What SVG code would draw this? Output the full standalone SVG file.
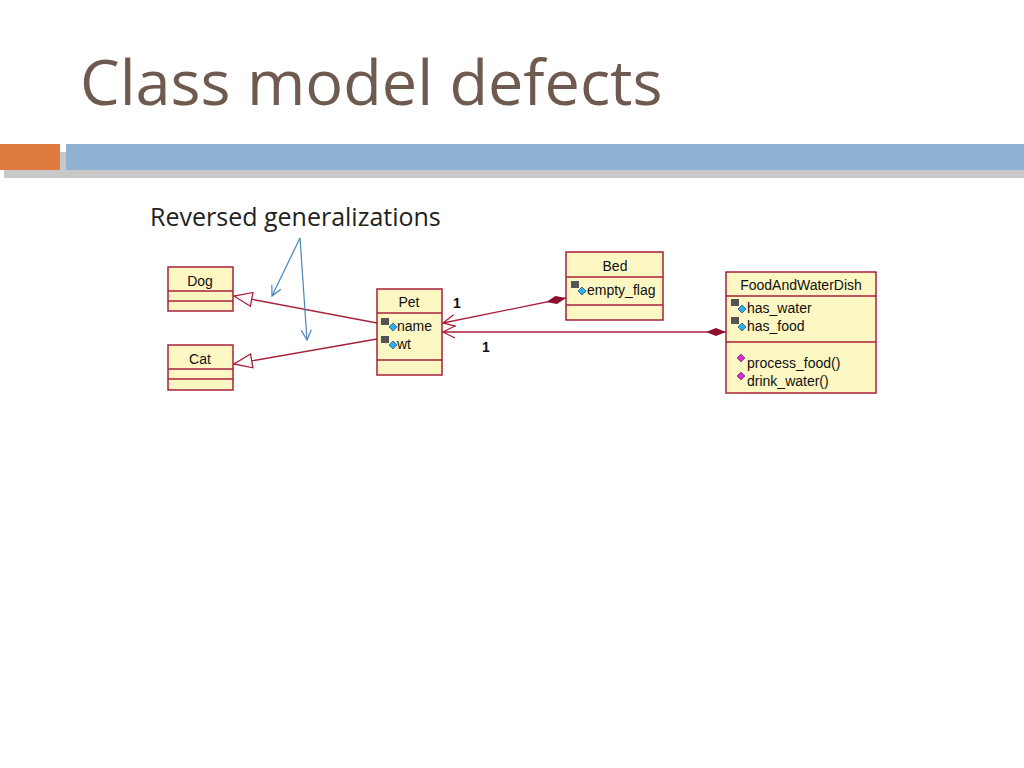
<svg xmlns="http://www.w3.org/2000/svg" width="1024" height="768" viewBox="0 0 1024 768">
<style>
.box{fill:#fdf7c3;stroke:#a8203c;stroke-width:1.5}
.ln{stroke:#a8203c;stroke-width:1.3;fill:none}
.t{font-family:"Liberation Sans",Arial,sans-serif;font-size:14px;fill:#111}
.blue{stroke:#4a86b8;stroke-width:1.2;fill:none}
</style>
<defs>
<marker id="tri" markerWidth="20" markerHeight="16" refX="19" refY="8" orient="auto" markerUnits="userSpaceOnUse"><path d="M19,8 L1,1 L1,15 Z" fill="#fff" stroke="#a8203c" stroke-width="1.3"/></marker>
<marker id="open" markerWidth="14" markerHeight="14" refX="13" refY="7" orient="auto" markerUnits="userSpaceOnUse"><path d="M1,1 L13,7 L1,13" fill="none" stroke="#a8203c" stroke-width="1.3"/></marker>
<marker id="dia" markerWidth="22" markerHeight="10" refX="1" refY="5" orient="auto" markerUnits="userSpaceOnUse"><path d="M1,5 L11,1 L21,5 L11,9 Z" fill="#8b1030"/></marker>
<marker id="ba" markerWidth="12" markerHeight="12" refX="11" refY="6" orient="auto" markerUnits="userSpaceOnUse"><path d="M1,1 L11,6 L1,11" fill="none" stroke="#4a86b8" stroke-width="1.2"/></marker>
</defs>
<rect width="1024" height="768" fill="#fff"/>
<text x="80" y="105" font-family="'Open Sans','Noto Sans',sans-serif" font-size="63" fill="#6e5a4e">Class model defects</text>
<rect x="4" y="152" width="1020" height="26" fill="#c8c8c8"/>
<rect x="0" y="144" width="60" height="26" fill="#e07b3f"/>
<rect x="66" y="144" width="958" height="26" fill="#8fb2d2"/>
<text x="150" y="226" font-family="'Open Sans','Noto Sans',sans-serif" font-size="25" fill="#222">Reversed generalizations</text>
<g id="connectors">
<line class="ln" x1="377" y1="323" x2="234" y2="296" marker-end="url(#tri)"/>
<line class="ln" x1="377" y1="339" x2="234" y2="364" marker-end="url(#tri)"/>
<line class="ln" x1="566" y1="298" x2="443" y2="323" marker-start="url(#dia)" marker-end="url(#open)"/>
<line class="ln" x1="726" y1="332" x2="443" y2="332" marker-start="url(#dia)" marker-end="url(#open)"/>
<line class="blue" x1="300" y1="238" x2="272" y2="296" marker-end="url(#ba)"/>
<line class="blue" x1="300" y1="238" x2="307" y2="340" marker-end="url(#ba)"/>
<text class="t" x="453" y="308" font-weight="bold" font-size="13">1</text>
<text class="t" x="482" y="352" font-weight="bold" font-size="13">1</text>
</g>
<g id="Dog"><rect class="box" x="168" y="267" width="65" height="44"/><line class="ln" x1="168" y1="291" x2="233" y2="291"/><line class="ln" x1="168" y1="301" x2="233" y2="301"/><text class="t" x="200" y="286" text-anchor="middle">Dog</text></g>
<g id="Cat"><rect class="box" x="168" y="345" width="65" height="45"/><line class="ln" x1="168" y1="369" x2="233" y2="369"/><line class="ln" x1="168" y1="379" x2="233" y2="379"/><text class="t" x="200" y="364" text-anchor="middle">Cat</text></g>
<g id="Pet"><rect class="box" x="377" y="289" width="65" height="86"/><line class="ln" x1="377" y1="313" x2="442" y2="313"/><line class="ln" x1="377" y1="360" x2="442" y2="360"/><text class="t" x="409" y="307" text-anchor="middle">Pet</text>
<g fill="#555"><rect x="381" y="318" width="8" height="7"/><rect x="381" y="336" width="8" height="7"/></g><g fill="#2ab0f0" stroke="#036" stroke-width="0.6"><path d="M389,327 l4,-4 l4,4 l-4,4z"/><path d="M389,345 l4,-4 l4,4 l-4,4z"/></g>
<text class="t" x="397" y="331">name</text><text class="t" x="397" y="349">wt</text></g>
<g id="Bed"><rect class="box" x="566" y="252" width="97" height="68"/><line class="ln" x1="566" y1="277" x2="663" y2="277"/><line class="ln" x1="566" y1="305" x2="663" y2="305"/><text class="t" x="615" y="271" text-anchor="middle">Bed</text>
<rect x="571" y="281" width="8" height="7" fill="#555"/><path d="M578,291 l4,-4 l4,4 l-4,4z" fill="#2ab0f0" stroke="#036" stroke-width="0.6"/><text class="t" x="587" y="295">empty_flag</text></g>
<g id="FoodAndWaterDish"><rect class="box" x="726" y="272" width="150" height="121"/><line class="ln" x1="726" y1="296" x2="876" y2="296"/><line class="ln" x1="726" y1="342" x2="876" y2="342"/><text class="t" x="801" y="290" text-anchor="middle">FoodAndWaterDish</text>
<g fill="#555"><rect x="731" y="299" width="8" height="7"/><rect x="731" y="317" width="8" height="7"/></g><g fill="#2ab0f0" stroke="#036" stroke-width="0.6"><path d="M738,309 l4,-4 l4,4 l-4,4z"/><path d="M738,327 l4,-4 l4,4 l-4,4z"/></g>
<text class="t" x="747" y="313">has_water</text><text class="t" x="747" y="331">has_food</text>
<g fill="#d030d0" stroke="#602060" stroke-width="0.6"><path d="M737,358 l4,-4 l4,4 l-4,4z"/><path d="M737,376 l4,-4 l4,4 l-4,4z"/></g>
<text class="t" x="747" y="368">process_food()</text><text class="t" x="747" y="386">drink_water()</text></g>
</svg>
